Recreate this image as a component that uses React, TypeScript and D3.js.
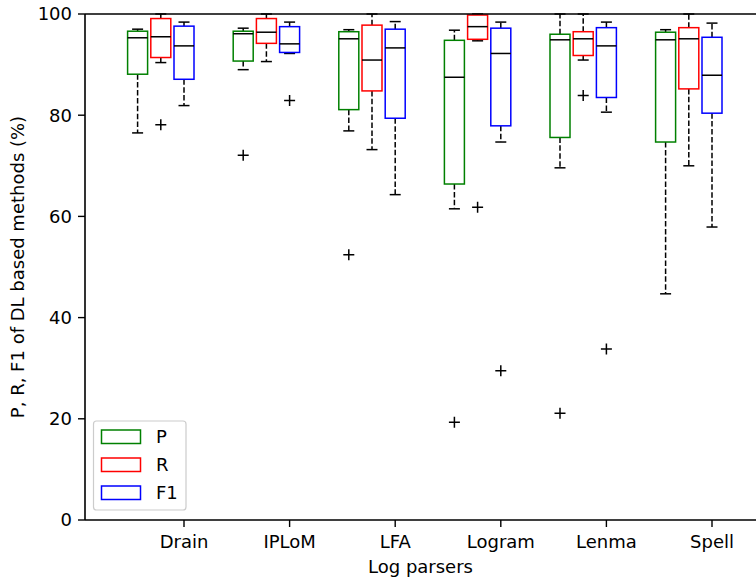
import React from "react";
import * as d3 from "d3";

// ---- data ----
const parsers = ["Drain", "IPLoM", "LFA", "Logram", "Lenma", "Spell"];
const seriesNames = ["P", "R", "F1"];
const seriesColors = ["green", "red", "blue"];

// [whiskerLow, q1, median, q3, whiskerHigh]
const pStats = [
  [76.5, 88.1, 95.3, 96.6, 97.0],
  [89.0, 90.7, 96.1, 96.6, 97.2],
  [76.9, 81.1, 95.1, 96.5, 96.9],
  [61.5, 66.4, 87.5, 94.8, 96.8],
  [69.6, 75.6, 94.9, 96.0, 100],
  [44.7, 74.7, 94.9, 96.4, 96.9],
];
const rStats = [
  [90.4, 91.4, 95.5, 99.1, 100],
  [90.6, 94.2, 96.4, 99.1, 100],
  [73.2, 84.8, 90.9, 97.8, 100],
  [94.7, 95.0, 97.5, 99.8, 100],
  [90.9, 91.8, 95.1, 96.5, 100],
  [70.0, 85.2, 95.1, 97.3, 100],
];
const f1Stats = [
  [81.9, 87.1, 93.7, 97.6, 98.4],
  [92.2, 92.4, 94.1, 97.5, 98.4],
  [64.3, 79.4, 93.3, 97.0, 98.5],
  [74.7, 77.9, 92.2, 97.2, 98.4],
  [80.6, 83.5, 93.7, 97.3, 98.4],
  [57.9, 80.4, 87.9, 95.4, 98.2],
];
const pOutliers = [[], [72.1], [52.4], [19.3], [21.1], []];
const rOutliers = [[78.1], [], [], [61.8], [83.9], []];
const f1Outliers = [[], [82.9], [], [29.5], [33.8], []];

const yTicks = [0, 20, 40, 60, 80, 100];

const W = 756;
const H = 579;
const left = 85;
const right = 760;
const top = 14;
const bottom = 520;
const FONT = "DejaVu Sans, sans-serif";
const FS = 18;

export default function App() {
  const x = d3.scaleLinear().domain([0, 5]).range([184, 712]);
  const y = d3.scaleLinear().domain([0, 100]).range([bottom, top]);
  const stats = [pStats, rStats, f1Stats];
  const outs = [pOutliers, rOutliers, f1Outliers];
  const step = 23.2;
  const boxW = 20;
  const capW = 11;

  const marks: React.ReactNode[] = [];
  parsers.forEach((_, gi) => {
    stats.forEach((ser, si) => {
      const [lo, q1, med, q3, hi] = ser[gi];
      const cx = x(gi) + (si - 2) * step;
      const col = seriesColors[si];
      const k = `${gi}-${si}`;
      marks.push(
        <g key={k}>
          <line x1={cx} x2={cx} y1={y(q1)} y2={y(lo)} stroke="black" strokeWidth={1.5} strokeDasharray="5.5,2.4" />
          <line x1={cx} x2={cx} y1={y(q3)} y2={y(hi)} stroke="black" strokeWidth={1.5} strokeDasharray="5.5,2.4" />
          <line x1={cx - capW / 2} x2={cx + capW / 2} y1={y(lo)} y2={y(lo)} stroke="black" strokeWidth={1.5} />
          <line x1={cx - capW / 2} x2={cx + capW / 2} y1={y(hi)} y2={y(hi)} stroke="black" strokeWidth={1.5} />
          <rect x={cx - boxW / 2} y={y(q3)} width={boxW} height={y(q1) - y(q3)} fill="white" stroke={col} strokeWidth={1.5} />
          <line x1={cx - boxW / 2} x2={cx + boxW / 2} y1={y(med)} y2={y(med)} stroke="black" strokeWidth={1.5} />
          {outs[si][gi].map((v, oi) => (
            <path key={oi} d={`M${cx - 5.5},${y(v)}H${cx + 5.5}M${cx},${y(v) - 5.5}V${y(v) + 5.5}`} stroke="black" strokeWidth={1.5} fill="none" />
          ))}
        </g>
      );
    });
  });

  return (
    <svg width={W} height={H} style={{ position: "absolute", left: 0, top: 0, background: "white" }} fontFamily={FONT}>
      <rect x={0} y={0} width={W} height={H} fill="white" />
      <defs>
        <clipPath id="plotclip">
          <rect x={left} y={top - 1} width={right - left} height={bottom - top + 2} />
        </clipPath>
      </defs>
      <g clipPath="url(#plotclip)">{marks}</g>
      {/* spines */}
      <path d={`M${left},${top}H${right}M${left},${bottom}H${right}M${left},${top}V${bottom}`} stroke="black" strokeWidth={1.6} fill="none" />
      {/* y ticks */}
      {yTicks.map((t) => (
        <g key={t}>
          <line x1={left - 7} x2={left} y1={y(t)} y2={y(t)} stroke="black" strokeWidth={1.4} />
          <text x={left - 13} y={y(t)} dy="0.36em" textAnchor="end" fontSize={FS}>{t}</text>
        </g>
      ))}
      {/* x ticks */}
      {parsers.map((p, i) => (
        <g key={p}>
          <line x1={x(i)} x2={x(i)} y1={bottom} y2={bottom + 7} stroke="black" strokeWidth={1.4} />
          <text x={x(i)} y={548} textAnchor="middle" fontSize={FS}>{p}</text>
        </g>
      ))}
      <text x={(left + 756) / 2} y={573} textAnchor="middle" fontSize={FS}>Log parsers</text>
      <text transform={`translate(24,${(top + bottom) / 2}) rotate(-90)`} textAnchor="middle" fontSize={FS}>
        P, R, F1 of DL based methods (%)
      </text>
      {/* legend */}
      <rect x={93.5} y={421} width={92.5} height={89} rx={3} fill="white" fillOpacity={0.8} stroke="#cccccc" strokeWidth={1.2} />
      {seriesNames.map((s, i) => (
        <g key={s}>
          <rect x={101.5} y={430 + i * 28} width={39} height={13.5} fill="white" stroke={seriesColors[i]} strokeWidth={1.5} />
          <text x={156} y={436.7 + i * 28} dy="0.36em" fontSize={FS}>{s}</text>
        </g>
      ))}
    </svg>
  );
}
